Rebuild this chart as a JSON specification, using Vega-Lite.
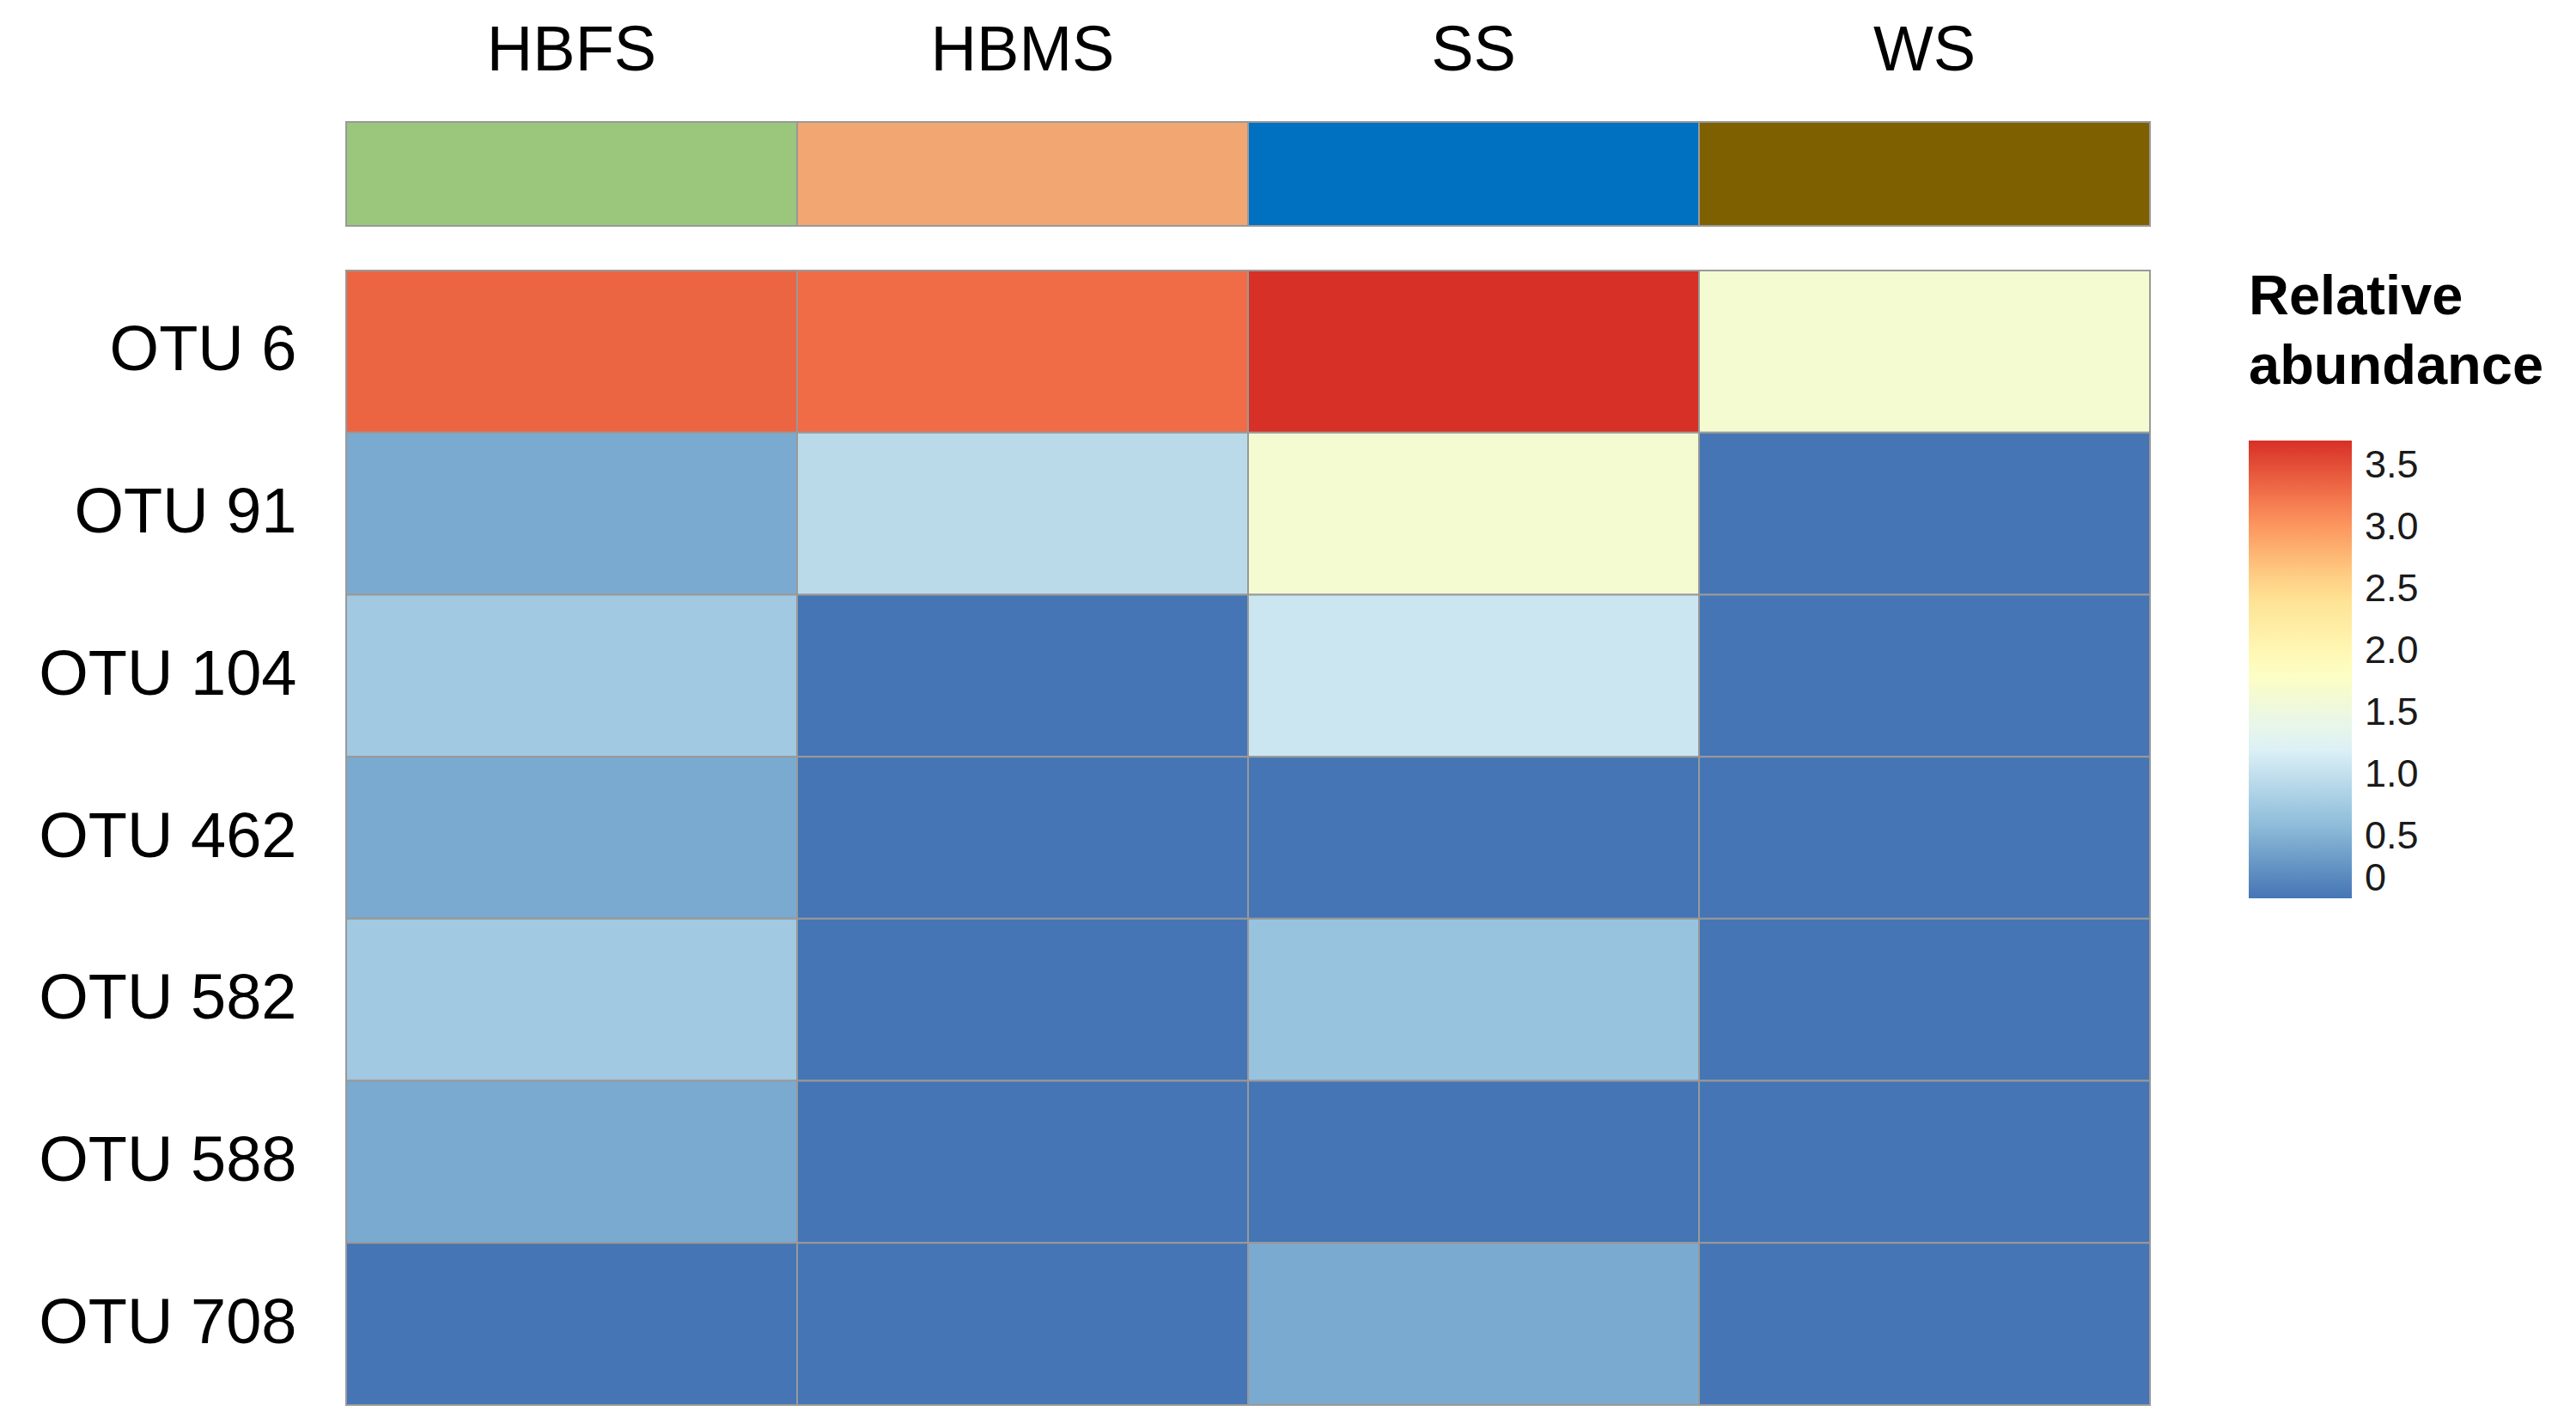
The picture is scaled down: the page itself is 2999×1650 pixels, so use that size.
{
  "$schema": "https://vega.github.io/schema/vega-lite/v6.json",
  "padding": {"left": 44, "top": 22, "right": 10, "bottom": 10},
  "background": "white",
  "config": {
    "view": {"stroke": null},
    "font": "Liberation Sans"
  },
  "datasets": {
    "cells": [
      {"otu": "OTU 6", "sample": "HBFS", "value": 3.35},
      {"otu": "OTU 6", "sample": "HBMS", "value": 3.3},
      {"otu": "OTU 6", "sample": "SS", "value": 3.7},
      {"otu": "OTU 6", "sample": "WS", "value": 1.65},
      {"otu": "OTU 91", "sample": "HBFS", "value": 0.44},
      {"otu": "OTU 91", "sample": "HBMS", "value": 0.94},
      {"otu": "OTU 91", "sample": "SS", "value": 1.65},
      {"otu": "OTU 91", "sample": "WS", "value": 0},
      {"otu": "OTU 104", "sample": "HBFS", "value": 0.74},
      {"otu": "OTU 104", "sample": "HBMS", "value": 0},
      {"otu": "OTU 104", "sample": "SS", "value": 1.08},
      {"otu": "OTU 104", "sample": "WS", "value": 0},
      {"otu": "OTU 462", "sample": "HBFS", "value": 0.44},
      {"otu": "OTU 462", "sample": "HBMS", "value": 0},
      {"otu": "OTU 462", "sample": "SS", "value": 0},
      {"otu": "OTU 462", "sample": "WS", "value": 0},
      {"otu": "OTU 582", "sample": "HBFS", "value": 0.74},
      {"otu": "OTU 582", "sample": "HBMS", "value": 0},
      {"otu": "OTU 582", "sample": "SS", "value": 0.67},
      {"otu": "OTU 582", "sample": "WS", "value": 0},
      {"otu": "OTU 588", "sample": "HBFS", "value": 0.44},
      {"otu": "OTU 588", "sample": "HBMS", "value": 0},
      {"otu": "OTU 588", "sample": "SS", "value": 0},
      {"otu": "OTU 588", "sample": "WS", "value": 0},
      {"otu": "OTU 708", "sample": "HBFS", "value": 0},
      {"otu": "OTU 708", "sample": "HBMS", "value": 0},
      {"otu": "OTU 708", "sample": "SS", "value": 0.44},
      {"otu": "OTU 708", "sample": "WS", "value": 0}
    ],
    "groups": [
      {"sample": "HBFS"},
      {"sample": "HBMS"},
      {"sample": "SS"},
      {"sample": "WS"}
    ]
  },
  "spacing": 50,
  "resolve": {"scale": {"color": "independent"}},
  "vconcat": [
    {
      "width": 2100,
      "height": 121,
      "data": {"name": "groups"},
      "mark": {"type": "rect", "stroke": "#999999", "strokeWidth": 2},
      "encoding": {
        "x": {
          "field": "sample",
          "type": "nominal",
          "sort": ["HBFS", "HBMS", "SS", "WS"],
          "scale": {"paddingInner": 0, "paddingOuter": 0},
          "axis": {
            "orient": "top",
            "title": null,
            "labelAngle": 0,
            "labelFontSize": 74,
            "labelColor": "#000000",
            "labelPadding": 45,
            "labelLimit": 600,
            "ticks": false,
            "domain": false
          }
        },
        "color": {
          "field": "sample",
          "type": "nominal",
          "scale": {
            "domain": ["HBFS", "HBMS", "SS", "WS"],
            "range": ["#9AC77C", "#F2A672", "#0070C0", "#7F6000"]
          },
          "legend": null
        }
      }
    },
    {
      "width": 2100,
      "height": 1321,
      "data": {"name": "cells"},
      "mark": {"type": "rect", "stroke": "#999999", "strokeWidth": 2},
      "encoding": {
        "x": {
          "field": "sample",
          "type": "nominal",
          "sort": ["HBFS", "HBMS", "SS", "WS"],
          "scale": {"paddingInner": 0, "paddingOuter": 0},
          "axis": null
        },
        "y": {
          "field": "otu",
          "type": "nominal",
          "sort": ["OTU 6", "OTU 91", "OTU 104", "OTU 462", "OTU 582", "OTU 588", "OTU 708"],
          "scale": {"paddingInner": 0, "paddingOuter": 0},
          "axis": {
            "title": null,
            "labelFontSize": 74,
            "labelColor": "#000000",
            "labelPadding": 58,
            "labelLimit": 600,
            "ticks": false,
            "domain": false
          }
        },
        "color": {
          "field": "value",
          "type": "quantitative",
          "scale": {
            "type": "linear",
            "interpolate": "rgb",
            "domain": [0, 0.6167, 1.2333, 1.85, 2.4667, 3.0833, 3.7],
            "range": ["#4575B4", "#91BFDB", "#E0F3F8", "#FFFFBF", "#FEE090", "#FC8D59", "#D73027"]
          },
          "legend": {
            "title": ["Relative", "abundance"],
            "titleFontSize": 65,
            "titleFontWeight": "bold",
            "titleColor": "#000000",
            "titleLineHeight": 81,
            "titlePadding": 52,
            "titleLimit": 800,
            "offset": 115,
            "gradientLength": 533,
            "gradientThickness": 120,
            "gradientStrokeWidth": 0,
            "labelFontSize": 45,
            "labelColor": "#1a1a1a",
            "labelOffset": 15,
            "values": [0, 0.5, 1, 1.5, 2, 2.5, 3, 3.5],
            "labelExpr": "datum.value == 0 ? '0' : format(datum.value, '.1f')",
            "labelOverlap": false
          }
        }
      }
    }
  ]
}
